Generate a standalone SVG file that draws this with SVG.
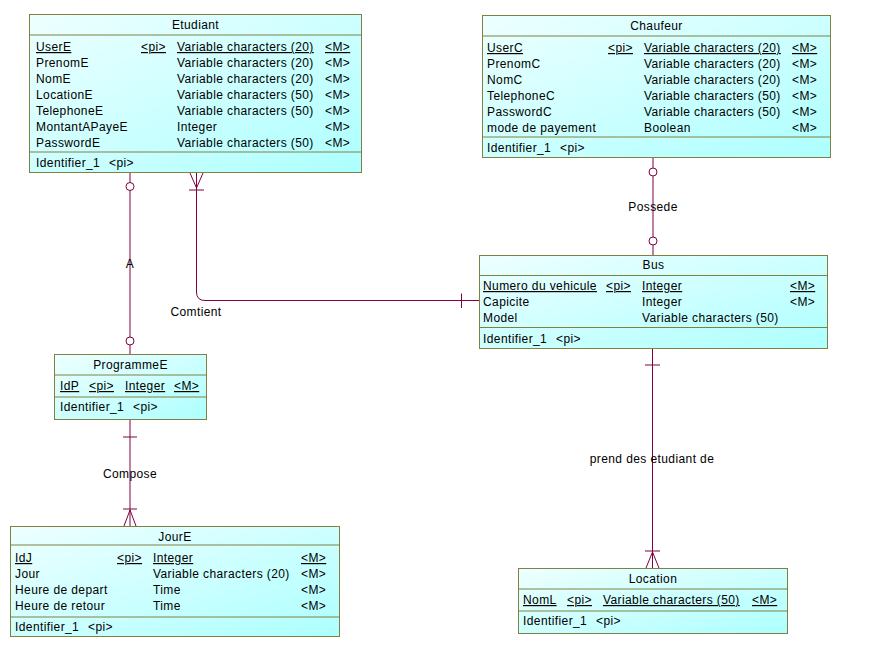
<svg xmlns="http://www.w3.org/2000/svg" width="871" height="647" viewBox="0 0 871 647">
<defs>
<linearGradient id="fill" x1="0" y1="0" x2="1" y2="1">
<stop offset="0" stop-color="#EEFFFF"/>
<stop offset="1" stop-color="#ADFFFF"/>
</linearGradient>
</defs>
<style>
text{font-family:"Liberation Sans",Arial,sans-serif;font-size:12px;fill:#000;letter-spacing:0.4px}
.box{fill:url(#fill);stroke:#808040;stroke-width:1}
.sep{stroke:#808040;stroke-width:1}
.t{text-anchor:middle}
.u{text-decoration:underline}
.c{fill:none;stroke:#800040;stroke-width:1}
.o{fill:#fff;stroke:#800040;stroke-width:1}
.lbl{text-anchor:middle}
</style>
<rect width="871" height="647" fill="#fff"/>

<g id="connectors">
<!-- A: Etudiant - ProgrammeE -->
<line class="c" x1="130" y1="173" x2="130" y2="354"/>
<circle class="o" cx="130" cy="186.5" r="4"/>
<circle class="o" cx="130" cy="341" r="4"/>
<text class="lbl" x="130" y="268">A</text>
<!-- Comtient: Etudiant - Bus -->
<path class="c" d="M196.5,173 V292 Q196.5,300.5 205,300.5 H479"/>
<path class="c" d="M190,173 L196.5,188 L203,173"/>
<line class="c" x1="189" y1="190" x2="204" y2="190"/>
<line class="c" x1="461.5" y1="293.5" x2="461.5" y2="308"/>
<text class="lbl" x="196" y="316">Comtient</text>
<!-- Possede: Chaufeur - Bus -->
<line class="c" x1="653" y1="158" x2="653" y2="255"/>
<circle class="o" cx="653" cy="172" r="4"/>
<circle class="o" cx="653" cy="241" r="4"/>
<text class="lbl" x="653" y="211">Possede</text>
<!-- Compose: ProgrammeE - JourE -->
<line class="c" x1="130" y1="420" x2="130" y2="526"/>
<line class="c" x1="123" y1="437" x2="137" y2="437"/>
<line class="c" x1="123" y1="509" x2="137" y2="509"/>
<path class="c" d="M124,526 L130,510 L136,526"/>
<text class="lbl" x="130" y="478">Compose</text>
<!-- prend des etudiant de: Bus - Location -->
<line class="c" x1="652.5" y1="349" x2="652.5" y2="568"/>
<line class="c" x1="645" y1="365" x2="660" y2="365"/>
<line class="c" x1="645" y1="551" x2="660" y2="551"/>
<path class="c" d="M646,568 L652.5,552 L659,568"/>
<text class="lbl" x="652" y="463">prend des etudiant de</text>
</g>

<g id="Etudiant">
<rect class="box" x="29.5" y="14.5" width="332" height="158"/>
<line class="sep" x1="29.5" y1="35" x2="361.5" y2="35"/>
<line class="sep" x1="29.5" y1="152" x2="361.5" y2="152"/>
<text class="t" x="195.5" y="29">Etudiant</text>
<text x="36" y="51" class="u">UserE</text><text x="141" y="51" class="u">&lt;pi&gt;</text><text x="177" y="51" class="u">Variable characters (20)</text><text x="325" y="51" class="u">&lt;M&gt;</text>
<text x="36" y="67">PrenomE</text><text x="177" y="67">Variable characters (20)</text><text x="325" y="67">&lt;M&gt;</text>
<text x="36" y="83">NomE</text><text x="177" y="83">Variable characters (20)</text><text x="325" y="83">&lt;M&gt;</text>
<text x="36" y="99">LocationE</text><text x="177" y="99">Variable characters (50)</text><text x="325" y="99">&lt;M&gt;</text>
<text x="36" y="115">TelephoneE</text><text x="177" y="115">Variable characters (50)</text><text x="325" y="115">&lt;M&gt;</text>
<text x="36" y="131">MontantAPayeE</text><text x="177" y="131">Integer</text><text x="325" y="131">&lt;M&gt;</text>
<text x="36" y="147">PasswordE</text><text x="177" y="147">Variable characters (50)</text><text x="325" y="147">&lt;M&gt;</text>
<text x="36" y="167">Identifier_1</text><text x="109" y="167">&lt;pi&gt;</text>
</g>

<g id="Chaufeur">
<rect class="box" x="482.5" y="15.5" width="348" height="142"/>
<line class="sep" x1="482.5" y1="36" x2="830.5" y2="36"/>
<line class="sep" x1="482.5" y1="137" x2="830.5" y2="137"/>
<text class="t" x="656.5" y="30">Chaufeur</text>
<text x="487" y="52" class="u">UserC</text><text x="608" y="52" class="u">&lt;pi&gt;</text><text x="644" y="52" class="u">Variable characters (20)</text><text x="792" y="52" class="u">&lt;M&gt;</text>
<text x="487" y="68">PrenomC</text><text x="644" y="68">Variable characters (20)</text><text x="792" y="68">&lt;M&gt;</text>
<text x="487" y="84">NomC</text><text x="644" y="84">Variable characters (20)</text><text x="792" y="84">&lt;M&gt;</text>
<text x="487" y="100">TelephoneC</text><text x="644" y="100">Variable characters (50)</text><text x="792" y="100">&lt;M&gt;</text>
<text x="487" y="116">PasswordC</text><text x="644" y="116">Variable characters (50)</text><text x="792" y="116">&lt;M&gt;</text>
<text x="487" y="132">mode de payement</text><text x="644" y="132">Boolean</text><text x="792" y="132">&lt;M&gt;</text>
<text x="487" y="152">Identifier_1</text><text x="560" y="152">&lt;pi&gt;</text>
</g>

<g id="Bus">
<rect class="box" x="479.5" y="255.5" width="348" height="93"/>
<line class="sep" x1="479.5" y1="275.5" x2="827.5" y2="275.5"/>
<line class="sep" x1="479.5" y1="327.5" x2="827.5" y2="327.5"/>
<text class="t" x="653.5" y="269">Bus</text>
<text x="483" y="290" class="u">Numero du vehicule</text><text x="606" y="290" class="u">&lt;pi&gt;</text><text x="642" y="290" class="u">Integer</text><text x="790" y="290" class="u">&lt;M&gt;</text>
<text x="483" y="306">Capicite</text><text x="642" y="306">Integer</text><text x="790" y="306">&lt;M&gt;</text>
<text x="483" y="322">Model</text><text x="642" y="322">Variable characters (50)</text>
<text x="483" y="343">Identifier_1</text><text x="556" y="343">&lt;pi&gt;</text>
</g>

<g id="ProgrammeE">
<rect class="box" x="54.5" y="354.5" width="152" height="65"/>
<line class="sep" x1="54.5" y1="375" x2="206.5" y2="375"/>
<line class="sep" x1="54.5" y1="397" x2="206.5" y2="397"/>
<text class="t" x="130.5" y="369">ProgrammeE</text>
<text x="60" y="390" class="u">IdP</text><text x="89" y="390" class="u">&lt;pi&gt;</text><text x="125" y="390" class="u">Integer</text><text x="174" y="390" class="u">&lt;M&gt;</text>
<text x="60" y="411">Identifier_1</text><text x="133" y="411">&lt;pi&gt;</text>
</g>

<g id="JourE">
<rect class="box" x="10.5" y="526.5" width="329" height="110"/>
<line class="sep" x1="10.5" y1="545" x2="339.5" y2="545"/>
<line class="sep" x1="10.5" y1="617" x2="339.5" y2="617"/>
<text class="t" x="175" y="541">JourE</text>
<text x="15" y="562" class="u">IdJ</text><text x="117" y="562" class="u">&lt;pi&gt;</text><text x="153" y="562" class="u">Integer</text><text x="301" y="562" class="u">&lt;M&gt;</text>
<text x="15" y="578">Jour</text><text x="153" y="578">Variable characters (20)</text><text x="301" y="578">&lt;M&gt;</text>
<text x="15" y="594">Heure de depart</text><text x="153" y="594">Time</text><text x="301" y="594">&lt;M&gt;</text>
<text x="15" y="610">Heure de retour</text><text x="153" y="610">Time</text><text x="301" y="610">&lt;M&gt;</text>
<text x="15" y="631">Identifier_1</text><text x="88" y="631">&lt;pi&gt;</text>
</g>

<g id="Location">
<rect class="box" x="518.5" y="568.5" width="269" height="65"/>
<line class="sep" x1="518.5" y1="589" x2="787.5" y2="589"/>
<line class="sep" x1="518.5" y1="611" x2="787.5" y2="611"/>
<text class="t" x="653" y="583">Location</text>
<text x="523" y="604" class="u">NomL</text><text x="567" y="604" class="u">&lt;pi&gt;</text><text x="603" y="604" class="u">Variable characters (50)</text><text x="752" y="604" class="u">&lt;M&gt;</text>
<text x="523" y="625">Identifier_1</text><text x="596" y="625">&lt;pi&gt;</text>
</g>
</svg>
